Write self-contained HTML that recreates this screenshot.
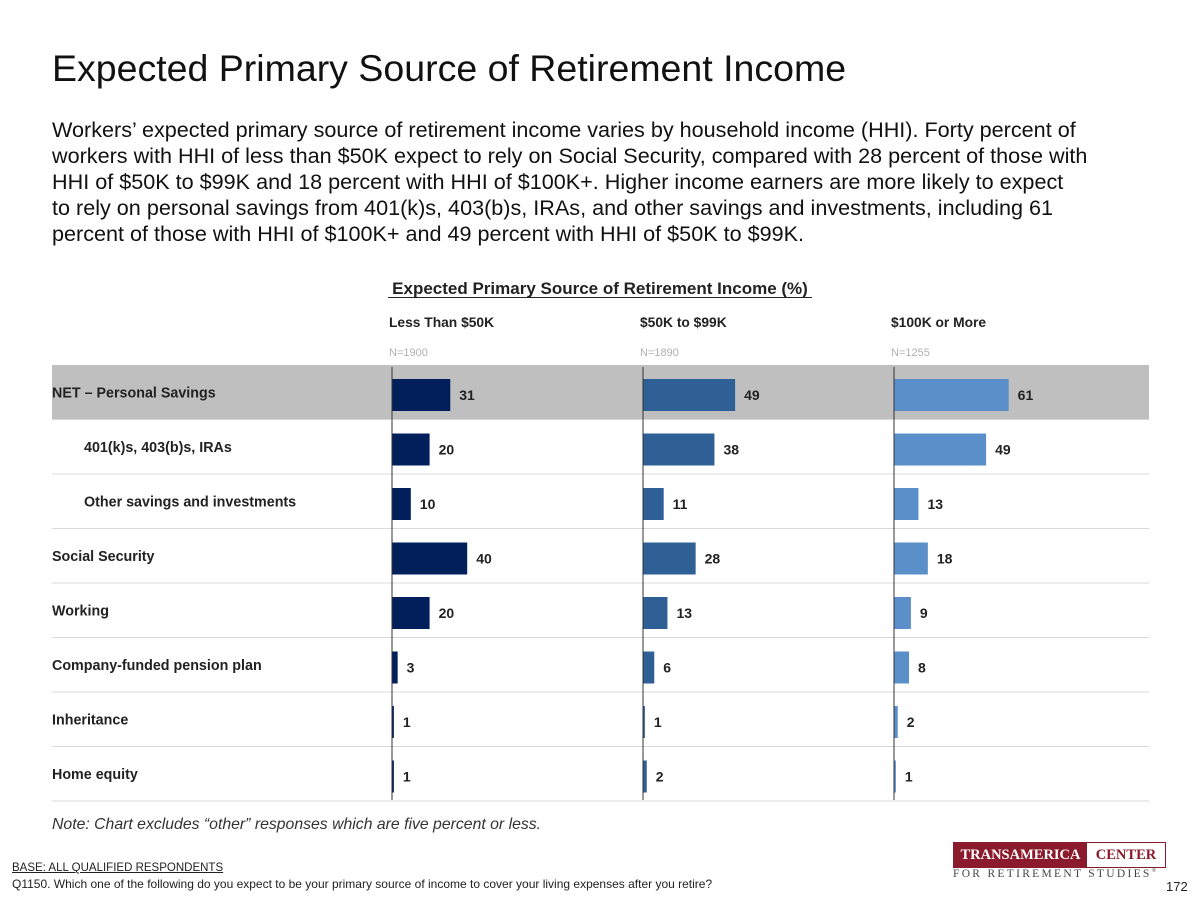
<!DOCTYPE html>
<html><head><meta charset="utf-8"><style>
body{margin:0;width:1200px;height:900px;background:#fff;font-family:"Liberation Sans",sans-serif;position:relative;overflow:hidden}
.abs{position:absolute}
</style></head><body>
<div class="abs" style="left:52px;top:47px;font-size:37.5px;color:#111;white-space:nowrap">Expected Primary Source of Retirement Income</div>
<div class="abs" style="left:52px;top:117px;font-size:21.6px;line-height:26px;color:#111;white-space:nowrap">Workers’ expected primary source of retirement income varies by household income (HHI). Forty percent of<br>workers with HHI of less than $50K expect to rely on Social Security, compared with 28 percent of those with<br>HHI of $50K to $99K and 18 percent with HHI of $100K+. Higher income earners are more likely to expect<br>to rely on personal savings from 401(k)s, 403(b)s, IRAs, and other savings and investments, including 61<br>percent of those with HHI of $100K+ and 49 percent with HHI of $50K to $99K.</div>
<svg class="abs" style="left:0;top:0" width="1200" height="900" id="chart"></svg>
<div class="abs" style="left:52px;top:816px;font-size:15.8px;font-style:italic;color:#333;white-space:nowrap">Note: Chart excludes “other” responses which are five percent or less.</div>
<div class="abs" style="left:12px;top:862px;font-size:11.5px;color:#222;text-decoration:underline;white-space:nowrap">BASE: ALL QUALIFIED RESPONDENTS</div>
<div class="abs" style="left:12px;top:877px;font-size:12px;color:#222;white-space:nowrap">Q1150. Which one of the following do you expect to be your primary source of income to cover your living expenses after you retire?</div>
<div class="abs" style="left:953px;top:842px;width:211px;height:24px;border:1px solid #8a1a2c;display:flex;font-family:'Liberation Serif',serif;font-size:14.5px;font-weight:bold">
<div style="background:#8a1a2c;color:#fff;width:133px;text-align:center;line-height:24px">TRANSAMERICA</div><div style="color:#8a1a2c;flex:1;text-align:center;line-height:24px">CENTER</div></div>
<div class="abs" style="left:953px;top:868px;font-family:'Liberation Serif',serif;font-size:11.5px;letter-spacing:2.3px;color:#444;white-space:nowrap">FOR RETIREMENT STUDIES<sup style="font-size:6px">®</sup></div>
<div class="abs" style="left:1166px;top:879px;font-size:13px;color:#222">172</div>
<script>
const categories=["NET – Personal Savings","401(k)s, 403(b)s, IRAs","Other savings and investments","Social Security","Working","Company-funded pension plan","Inheritance","Home equity"];
const indented=[false,true,true,false,false,false,false,false];
const groups=["Less Than $50K","$50K to $99K","$100K or More"];
const sampleSizes=["N=1900","N=1890","N=1255"];
const lowIncome=[31,20,10,40,20,3,1,1];
const midIncome=[49,38,11,28,13,6,1,2];
const highIncome=[61,49,13,18,9,8,2,1];
const series=[lowIncome,midIncome,highIncome];
const colors=["#001f5b","#2e6096","#5b8fc9"];
const svg=document.getElementById('chart');const NS="http://www.w3.org/2000/svg";
function mk(t,a,txt){const e=document.createElementNS(NS,t);for(const k in a)e.setAttribute(k,a[k]);if(txt!==undefined)e.textContent=txt;svg.appendChild(e);return e;}
const panelX=[392,643,894];const scale=1.88;const rowTop=365,rowH=54.5;
const xs=(p,v)=>panelX[p]+v*scale;
const ry=i=>rowTop+i*rowH;
let e=mk('rect',{x:52,y:365,width:1097,height:rowH,fill:'#bfbfbf'});

e=mk('text',{x:600,y:294,'text-anchor':'middle','font-size':17,'font-weight':'bold',fill:'#222'},'Expected Primary Source of Retirement Income (%)');

e=mk('line',{x1:388,x2:812,y1:297.5,y2:297.5,stroke:'#222','stroke-width':1});

for(let i=0;i<categories.length;i++){
 e=mk('text',{x:indented[i]?84:52,y:ry(i)+rowH/2+5,'font-size':14.3,'font-weight':'bold',fill:'#222'},categories[i]);
 
 e=mk('line',{x1:52,x2:1149,y1:ry(i+1),y2:ry(i+1),stroke:'#d9d9d9','stroke-width':1});
 
}
for(let p=0;p<3;p++){
 e=mk('text',{x:panelX[p]-3,y:327,'font-size':13.8,'font-weight':'bold',fill:'#222'},groups[p]);
 
 e=mk('text',{x:panelX[p]-3,y:356,'font-size':11,fill:'#b0b0b0'},sampleSizes[p]);
 
 for(let i=0;i<categories.length;i++){
  const v=series[p][i];
  e=mk('rect',{x:panelX[p],y:ry(i)+14,width:v*scale,height:32,fill:colors[p]});
  
  e=mk('text',{x:xs(p,v)+9,y:ry(i)+35,'font-size':14,'font-weight':'bold',fill:'#222'},String(v));
  
 }
 e=mk('line',{x1:panelX[p],x2:panelX[p],y1:367,y2:800,stroke:'#333','stroke-width':1});
 
}
</script>
</body></html>
